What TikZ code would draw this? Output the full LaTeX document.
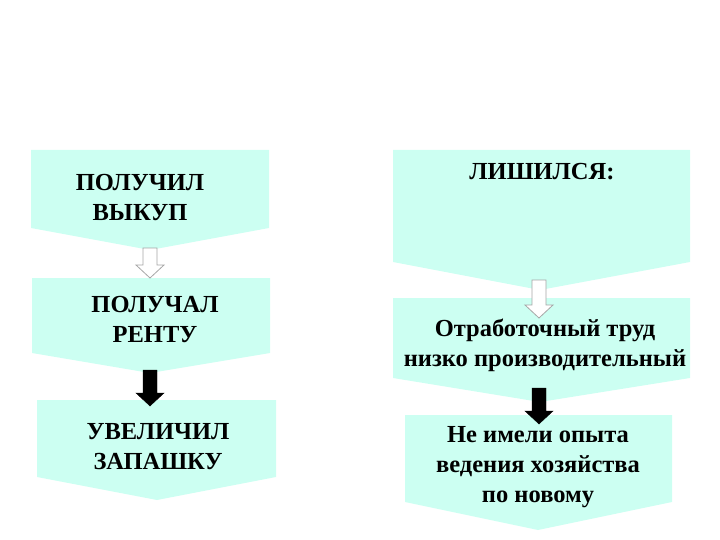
\documentclass[tikz,border=0pt]{standalone}
\usepackage{fontspec}
\setmainfont{Liberation Serif}
\definecolor{boxc}{RGB}{204,255,242}
\newcommand{\cbox}[6]{\path[boxfill] (#1,#3) -- (#2,#3) -- (#2,#4) -- (#5,#6) -- (#1,#4) -- cycle;}
\newcommand{\barrow}[4]{\path[#4] ({#1-7},#2) -- ({#1+7},#2) -- ({#1+7},{#3-13}) -- ({#1+14},{#3-13}) -- (#1,#3) -- ({#1-14},{#3-13}) -- ({#1-7},{#3-13}) -- cycle;}
\begin{document}
\begin{tikzpicture}[x=1pt,y=-1pt,
  boxfill/.style={fill=boxc,draw=none},
  txt/.style={font=\bfseries\fontsize{24.5}{30}\selectfont,align=center,inner sep=0pt},
  holarrow/.style={fill=white,draw=gray!70,line width=0.8pt},
  blkarrow/.style={fill=black,draw=black}]
\useasboundingbox (0,0) rectangle (720,540);
% left
\cbox{31}{269}{150}{228}{150}{250}
\cbox{32}{270}{278}{353}{150}{373}
\cbox{37}{276}{400}{477}{157}{500}
\barrow{150}{248}{278}{holarrow}
\barrow{150}{370}{406}{blkarrow}
\node[txt] (a1) at (140,198) {ПОЛУЧИЛ\\ВЫКУП};
\node[txt] (a2) at (155,320) {ПОЛУЧАЛ\\РЕНТУ};
\node[txt] (a3) at (158,447) {УВЕЛИЧИЛ\\ЗАПАШКУ};
% right
\cbox{393}{690}{150}{262}{540}{290}
\cbox{393}{690}{298}{378}{540}{402}
\cbox{405}{672}{415}{502}{538}{530}
\barrow{539}{280}{318}{holarrow}
\barrow{539}{388}{424}{blkarrow}
\node[txt] (b1) at (542,172) {ЛИШИЛСЯ:};
\node[txt] (b2) at (545,345) {Отработочный труд\\низко производительный};
\node[txt] (b3) at (538,467) {Не имели опыта\\ведения хозяйства\\по новому};
\end{tikzpicture}
\end{document}
